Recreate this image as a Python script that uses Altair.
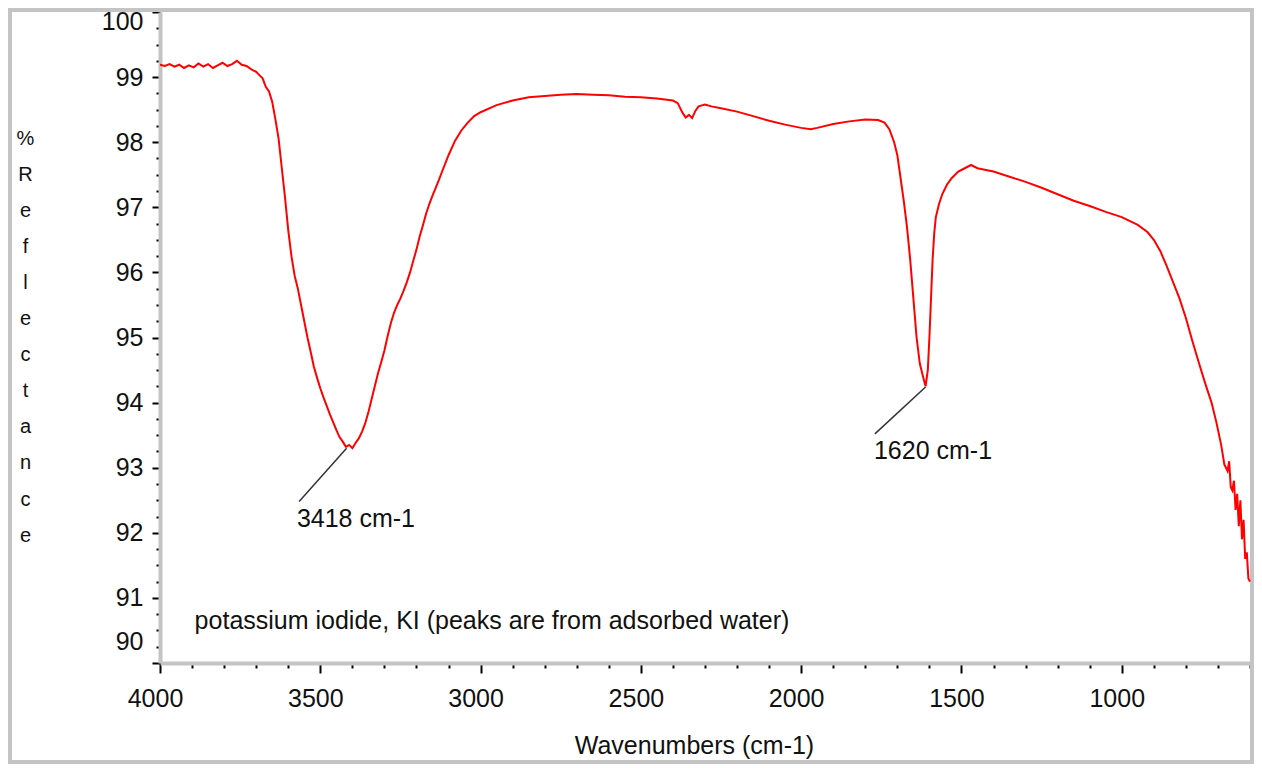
import altair as alt
import pandas as pd
import numpy as np

# ---- spectrum (wavenumber, % reflectance) ----
wavenumber = [4000, 3985, 3970, 3955, 3940, 3925, 3910, 3895, 3880, 3865, 3850, 3835, 3820, 3805,
              3790, 3775, 3760, 3745, 3730, 3715, 3700, 3690, 3680, 3670, 3660, 3650, 3640, 3630,
              3620, 3610, 3600, 3590, 3580, 3570, 3560, 3550, 3540, 3530, 3520, 3510, 3500, 3490,
              3480, 3470, 3460, 3450, 3440, 3430, 3420, 3410, 3400, 3390, 3380, 3370, 3360, 3350,
              3340, 3330, 3320, 3310, 3300, 3290, 3280, 3270, 3260, 3250, 3240, 3230, 3220, 3210,
              3200, 3190, 3180, 3170, 3160, 3150, 3140, 3130, 3120, 3100, 3080, 3060, 3040, 3020,
              3000, 2950, 2900, 2850, 2800, 2750, 2700, 2650, 2600, 2550, 2500, 2450, 2400, 2385,
              2370, 2360, 2350, 2340, 2330, 2320, 2300, 2280, 2250, 2200, 2150, 2100, 2050, 2000,
              1970, 1950, 1900, 1850, 1800, 1760, 1740, 1725, 1710, 1700, 1690, 1680, 1670, 1660,
              1650, 1640, 1630, 1620, 1612, 1605, 1600, 1595, 1590, 1585, 1580, 1570, 1560, 1545,
              1530, 1510, 1490, 1470, 1450, 1420, 1400, 1350, 1300, 1250, 1200, 1150, 1100, 1050,
              1000, 950, 920, 900, 880, 860, 840, 820, 800, 780, 760, 740, 720, 705, 690, 680,
              670, 665, 660, 655, 650, 645, 640, 635, 630, 625, 620, 615, 610, 605, 600]
reflectance = [99.19, 99.17, 99.20, 99.16, 99.19, 99.14, 99.18, 99.15, 99.21, 99.16, 99.20, 99.14, 99.18, 99.22,
               99.17, 99.20, 99.25, 99.19, 99.17, 99.12, 99.08, 99.03, 98.98, 98.85, 98.78, 98.62, 98.35, 98.05,
               97.60, 97.15, 96.65, 96.25, 95.95, 95.75, 95.50, 95.25, 95.00, 94.78, 94.55, 94.38, 94.22, 94.08,
               93.95, 93.82, 93.70, 93.58, 93.47, 93.40, 93.32, 93.35, 93.30, 93.38, 93.45, 93.55, 93.68, 93.85,
               94.05, 94.25, 94.45, 94.62, 94.80, 95.02, 95.22, 95.38, 95.50, 95.60, 95.72, 95.85, 96.00, 96.18,
               96.35, 96.55, 96.72, 96.90, 97.05, 97.18, 97.30, 97.42, 97.55, 97.80, 98.02, 98.18, 98.30, 98.40,
               98.46, 98.57, 98.64, 98.69, 98.71, 98.73, 98.74, 98.73, 98.72, 98.70, 98.69, 98.67, 98.64, 98.60,
               98.45, 98.38, 98.42, 98.37, 98.48, 98.55, 98.58, 98.55, 98.52, 98.47, 98.40, 98.33, 98.27, 98.22,
               98.20, 98.22, 98.28, 98.32, 98.35, 98.34, 98.30, 98.20, 98.00, 97.80, 97.45, 97.10, 96.70, 96.20,
               95.60, 95.00, 94.60, 94.40, 94.25, 94.50, 95.00, 95.60, 96.20, 96.60, 96.85, 97.05, 97.20, 97.35,
               97.45, 97.55, 97.60, 97.65, 97.60, 97.57, 97.55, 97.47, 97.39, 97.30, 97.20, 97.10, 97.02, 96.93,
               96.85, 96.73, 96.62, 96.50, 96.33, 96.10, 95.85, 95.60, 95.30, 94.95, 94.62, 94.30, 94.00, 93.70,
               93.35, 93.05, 92.95, 93.10, 92.70, 92.65, 92.80, 92.35, 92.60, 92.10, 92.50, 91.90, 92.20, 91.60,
               91.70, 91.30, 91.25]

# ---- peak callouts ----
peak_labels = ["3418 cm-1", "1620 cm-1"]
peak_wn = [3418, 1612]
peak_val = [93.30, 94.24]
callout_wn = [3566, 1770]
callout_val = [92.48, 93.52]
text_wn = [3573, 1773]
text_val = [92.21, 93.25]

caption = ["potassium iodide, KI (peaks are from adsorbed water)"]
caption_wn = [3892]
caption_val = [90.64]

# ---- axes ----
x_domain = [600, 4000]
y_domain = [90, 100]
x_major_step = 500
y_major_step = 1
x_ticks = list(range(600, 4001, 100))
y_ticks = [float(v) for v in np.arange(90, 100.001, 0.25)]

FONT = "Liberation Sans"

spec_df = pd.DataFrame({"wn": wavenumber, "refl": reflectance})
peak_df = pd.DataFrame({"label": peak_labels, "wn": peak_wn, "refl": peak_val,
                        "wn2": callout_wn, "refl2": callout_val,
                        "twn": text_wn, "trefl": text_val})
cap_df = pd.DataFrame({"label": caption, "wn": caption_wn, "refl": caption_val})
frame_df = pd.DataFrame({"a": [0]})

x_scale = alt.Scale(domain=x_domain, reverse=True, nice=False, zero=False)
y_scale = alt.Scale(domain=y_domain, nice=False, zero=False)

x_axis = alt.Axis(
    title="Wavenumbers (cm-1)",
    values=x_ticks,
    labelExpr=f"datum.value % {x_major_step} === 0 ? format(datum.value, 'd') : ''",
    tickSize={"condition": {"test": f"datum.value % {x_major_step} === 0", "value": 10}, "value": 5},
    tickWidth=2, tickColor="#000000",
    domainColor="#c4c4c4", domainWidth=4,
    labelFont=FONT, labelFontSize=25, labelColor="#111111", labelPadding=13,
    labelOffset=-5, labelOverlap=False, labelFlush=False,
    titleFont=FONT, titleFontSize=25, titleFontWeight="normal", titleColor="#111111",
    titleX=534, titleY=82, titleAlign="center", titleBaseline="middle",
    grid=False,
)
y_axis = alt.Axis(
    title=["%", "R", "e", "f", "l", "e", "c", "t", "a", "n", "c", "e"],
    values=y_ticks,
    labelExpr=f"datum.value % {y_major_step} === 0 ? format(datum.value, 'd') : ''",
    tickSize={"condition": {"test": f"datum.value % {y_major_step} === 0", "value": 8}, "value": 4},
    tickWidth=2, tickColor="#000000",
    domainColor="#c4c4c4", domainWidth=4,
    labelFont=FONT, labelFontSize=25, labelColor="#111111", labelPadding=9,
    labelOffset={"condition": [{"test": "datum.value === 90", "value": -22},
                               {"test": "datum.value === 100", "value": 9}], "value": 0},
    labelOverlap=False, labelFlush=False,
    titleFont=FONT, titleFontSize=20, titleFontWeight="normal", titleColor="#111111",
    titleAngle=0, titleX=-135, titleY=126, titleAlign="center", titleBaseline="middle",
    titleLineHeight=36.1,
    grid=False,
)

X = alt.X("wn:Q", scale=x_scale, axis=x_axis)
Y = alt.Y("refl:Q", scale=y_scale, axis=y_axis)

frame = alt.Chart(frame_df).mark_rect(filled=False, stroke="#c4c4c4", strokeWidth=4).encode(
    x=alt.value(-150), x2=alt.value(1092), y=alt.value(-2), y2=alt.value(750)
)

line = alt.Chart(spec_df).mark_line(color="#ff0000", strokeWidth=2, interpolate="linear").encode(
    x=X, y=Y, order="wn:Q"
)

callouts = alt.Chart(peak_df).mark_rule(color="#333333", strokeWidth=1.5).encode(
    x=X, y=Y, x2="wn2:Q", y2="refl2:Q"
)

peak_text = alt.Chart(peak_df).mark_text(
    align="left", baseline="middle", font=FONT, fontSize=25, color="#111111"
).encode(
    x=alt.X("twn:Q", scale=x_scale, axis=x_axis),
    y=alt.Y("trefl:Q", scale=y_scale, axis=y_axis),
    text="label:N",
)

cap_text = alt.Chart(cap_df).mark_text(
    align="left", baseline="middle", font=FONT, fontSize=25, color="#111111"
).encode(x=X, y=Y, text="label:N")

chart = alt.layer(frame, line, callouts, peak_text, cap_text).properties(
    width=1090, height=651,
    autosize=alt.AutoSizeParams(type="none"),
    padding={"left": 152, "top": 4, "right": 4, "bottom": 101},
    background="#ffffff",
).configure_view(stroke=None)

chart.save("out.html", embed_options={"renderer": "svg", "actions": False})
